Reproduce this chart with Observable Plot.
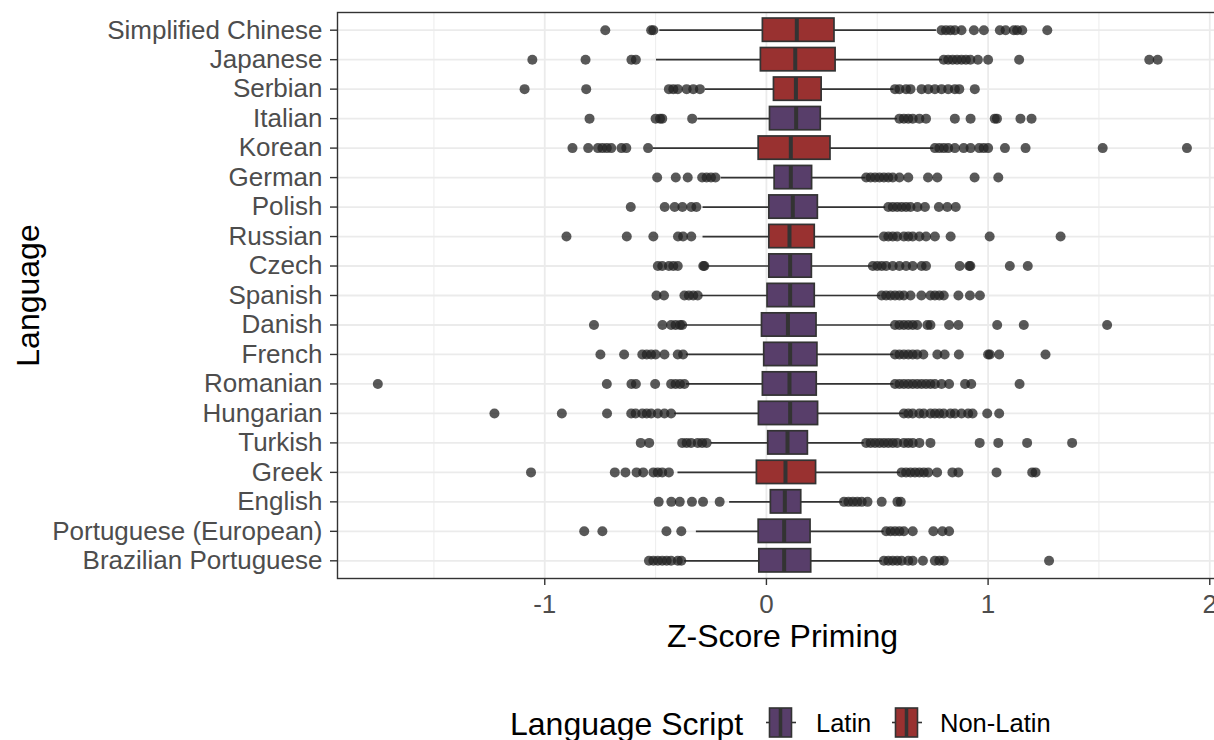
<!DOCTYPE html>
<html>
<head>
<meta charset="utf-8">
<script src="https://cdn.jsdelivr.net/npm/d3@7"></script>
<script src="https://cdn.jsdelivr.net/npm/@observablehq/plot@0.6"></script>
<style>
html, body { margin: 0; padding: 0; background: #fff; }
#wrap { position: relative; width: 1214px; height: 740px; overflow: hidden; font-family: "Liberation Sans", Arial, sans-serif; }
#wrap svg { max-width: none !important; }
.lg { position: absolute; white-space: nowrap; color: #000; }
</style>
</head>
<body>
<div id="wrap">
  <div id="chart"></div>
  <div id="legend"></div>
</div>
<script>
const languages = ["Simplified Chinese","Japanese","Serbian","Italian","Korean","German","Polish","Russian","Czech","Spanish","Danish","French","Romanian","Hungarian","Turkish","Greek","English","Portuguese (European)","Brazilian Portuguese"];
const script = ["Non-Latin","Non-Latin","Non-Latin","Latin","Non-Latin","Latin","Latin","Non-Latin","Latin","Latin","Latin","Latin","Latin","Latin","Latin","Non-Latin","Latin","Latin","Latin"];
const q1 = [-0.016,-0.025,0.034,0.016,-0.035,0.037,0.013,0.013,0.013,0.005,-0.02,-0.01,-0.016,-0.034,0.008,-0.043,0.02,-0.035,-0.032];
const median = [0.137,0.13,0.133,0.134,0.11,0.11,0.119,0.104,0.107,0.107,0.097,0.107,0.104,0.107,0.095,0.086,0.083,0.08,0.08];
const q3 = [0.307,0.312,0.249,0.245,0.289,0.206,0.232,0.218,0.205,0.218,0.226,0.23,0.227,0.233,0.187,0.224,0.157,0.199,0.202];
const whiskerLo = [-0.481,-0.496,-0.275,-0.31,-0.51,-0.204,-0.286,-0.286,-0.264,-0.295,-0.369,-0.361,-0.361,-0.414,-0.249,-0.399,-0.166,-0.316,-0.369];
const whiskerHi = [0.767,0.794,0.576,0.591,0.756,0.448,0.538,0.508,0.478,0.516,0.568,0.576,0.576,0.621,0.441,0.606,0.343,0.531,0.523];
const outliers = [
  [-0.727,-0.52,-0.51,0.79,0.81,0.83,0.85,0.88,0.936,0.981,1.053,1.079,1.116,1.131,1.154,1.267],
  [-1.056,-0.816,-0.609,-0.589,0.80,0.82,0.84,0.86,0.88,0.90,0.92,0.954,1.0,1.14,1.727,1.765],
  [-1.091,-0.813,-0.44,-0.42,-0.40,-0.36,-0.33,-0.30,0.58,0.60,0.63,0.65,0.70,0.73,0.76,0.79,0.82,0.85,0.87,0.94],
  [-0.798,-0.50,-0.48,-0.47,-0.335,0.60,0.62,0.64,0.66,0.69,0.72,0.85,0.921,1.03,1.04,1.146,1.196],
  [-0.875,-0.804,-0.76,-0.74,-0.72,-0.70,-0.654,-0.632,-0.534,0.76,0.78,0.80,0.82,0.85,0.89,0.921,0.96,0.98,1.0,1.076,1.169,1.517,1.897],
  [-0.493,-0.409,-0.355,-0.29,-0.27,-0.25,-0.23,0.45,0.47,0.49,0.51,0.53,0.55,0.57,0.60,0.64,0.729,0.771,0.939,1.046],
  [-0.612,-0.459,-0.414,-0.379,-0.339,-0.316,0.55,0.57,0.59,0.61,0.63,0.65,0.681,0.715,0.778,0.816,0.854],
  [-0.902,-0.63,-0.51,-0.399,-0.376,-0.339,0.53,0.55,0.57,0.59,0.62,0.64,0.66,0.69,0.72,0.76,0.831,1.007,1.327],
  [-0.49,-0.47,-0.44,-0.42,-0.40,-0.285,-0.28,0.48,0.50,0.52,0.54,0.57,0.60,0.63,0.66,0.70,0.72,0.872,0.915,0.92,1.098,1.179],
  [-0.496,-0.462,-0.37,-0.35,-0.33,-0.31,0.52,0.54,0.56,0.58,0.60,0.62,0.65,0.699,0.74,0.76,0.78,0.80,0.866,0.918,0.963],
  [-0.778,-0.469,-0.43,-0.41,-0.39,-0.38,0.58,0.60,0.62,0.64,0.66,0.68,0.726,0.74,0.824,0.866,1.041,1.161,1.537],
  [-0.749,-0.642,-0.56,-0.54,-0.52,-0.50,-0.46,-0.40,-0.376,0.58,0.60,0.62,0.64,0.66,0.68,0.708,0.771,0.804,0.868,1.0,1.008,1.05,1.259],
  [-1.753,-0.72,-0.609,-0.589,-0.502,-0.43,-0.41,-0.39,-0.37,0.58,0.60,0.62,0.64,0.66,0.68,0.70,0.72,0.74,0.76,0.79,0.824,0.896,0.924,1.142],
  [-1.227,-0.923,-0.719,-0.61,-0.59,-0.56,-0.54,-0.52,-0.49,-0.46,-0.43,0.62,0.64,0.66,0.69,0.71,0.74,0.76,0.78,0.80,0.83,0.85,0.88,0.91,0.93,0.996,1.05],
  [-0.567,-0.529,-0.38,-0.36,-0.34,-0.31,-0.29,-0.27,0.45,0.47,0.49,0.51,0.53,0.55,0.57,0.59,0.62,0.64,0.66,0.69,0.74,0.962,1.046,1.176,1.379],
  [-1.062,-0.684,-0.636,-0.586,-0.556,-0.51,-0.49,-0.47,-0.44,0.61,0.63,0.65,0.67,0.69,0.71,0.73,0.77,0.839,0.866,1.038,1.199,1.214],
  [-0.486,-0.429,-0.391,-0.336,-0.286,-0.211,0.35,0.37,0.39,0.41,0.43,0.456,0.52,0.591,0.606],
  [-0.822,-0.74,-0.451,-0.384,0.54,0.56,0.58,0.60,0.62,0.66,0.753,0.794,0.824],
  [-0.53,-0.51,-0.49,-0.47,-0.45,-0.43,-0.40,-0.384,0.53,0.55,0.57,0.59,0.61,0.64,0.66,0.706,0.76,0.78,0.80,1.275]
];
const xTicks = [-1, 0, 1, 2];
const xMinorTicks = [-1.5, -0.5, 0.5, 1.5];
const scriptLevels = ["Latin", "Non-Latin"];
const scriptColors = ["#583E6A", "#993130"];

const idx = languages.map((_, i) => i);
const outlierPoints = outliers.flatMap((vals, i) => vals.map(v => ({lang: languages[i], v})));

const chart = Plot.plot({
  width: 1227,
  height: 670,
  marginLeft: 337,
  marginRight: 0,
  marginTop: 12,
  marginBottom: 92,
  style: {fontFamily: "'Liberation Sans', Arial, sans-serif", background: "white", maxWidth: "none"},
  x: {domain: [-1.935, 2.08]},
  y: {type: "band", domain: languages, paddingInner: 0.21, paddingOuter: 0.205, round: false},
  color: {domain: scriptLevels, range: scriptColors},
  marks: [
    Plot.gridX({ticks: xMinorTicks, stroke: "#ebebeb", strokeOpacity: 1, strokeWidth: 0.9}),
    Plot.gridX({ticks: xTicks, stroke: "#ebebeb", strokeOpacity: 1, strokeWidth: 1.8}),
    Plot.gridY({stroke: "#ebebeb", strokeOpacity: 1, strokeWidth: 1.8}),
    Plot.ruleY(idx, {y: i => languages[i], x1: i => whiskerLo[i], x2: i => whiskerHi[i], stroke: "#333", strokeWidth: 1.7}),
    Plot.barX(idx, {y: i => languages[i], x1: i => q1[i], x2: i => q3[i], fill: i => script[i], stroke: "#333", strokeWidth: 1.7}),
    Plot.tickX(idx, {y: i => languages[i], x: i => median[i], stroke: "#333", strokeWidth: 4}),
    Plot.dot(outlierPoints, {y: "lang", x: "v", r: 5, fill: "#222", fillOpacity: 0.75, stroke: "none"}),
    Plot.frame({stroke: "#333", strokeWidth: 1.4}),
    Plot.axisX({ticks: xTicks, tickFormat: d => String(d), tickSize: 7, tickPadding: 9, fontSize: 26, fill: "#4d4d4d", stroke: "#333", strokeWidth: 1.4, label: null}),
    Plot.axisY({tickSize: 7, tickPadding: 8, fontSize: 26, fill: "#4d4d4d", stroke: "#333", strokeWidth: 1.4, label: null}),
    Plot.text(["Z-Score Priming"], {frameAnchor: "bottom", dy: 68, fontSize: 32, fill: "black"}),
    Plot.text(["Language"], {frameAnchor: "left", textAnchor: "middle", dx: -309, rotate: -90, fontSize: 32, fill: "black"})
  ]
});
document.getElementById("chart").appendChild(chart);

// Legend below the plot
const legend = document.getElementById("legend");
function addText(txt, left, top, size) {
  const d = document.createElement("div");
  d.className = "lg";
  d.textContent = txt;
  d.style.left = left + "px";
  d.style.top = top + "px";
  d.style.fontSize = size + "px";
  d.style.lineHeight = size + "px";
  legend.appendChild(d);
}
function addKey(color, left, top) {
  const ns = "http://www.w3.org/2000/svg";
  const s = document.createElementNS(ns, "svg");
  s.setAttribute("width", 32); s.setAttribute("height", 33);
  s.style.position = "absolute"; s.style.left = left + "px"; s.style.top = top + "px";
  s.innerHTML = `<line x1="1" x2="31" y1="16.5" y2="16.5" stroke="#333" stroke-width="1.6"/>
    <rect x="4.5" y="2" width="22" height="29" fill="${color}" stroke="#333" stroke-width="1.6"/>
    <line x1="15.5" x2="15.5" y1="2" y2="31" stroke="#333" stroke-width="3.5"/>`;
  legend.appendChild(s);
}
addText("Language Script", 510, 708, 32);
addKey(scriptColors[0], 765, 706);
addText(scriptLevels[0], 816, 711, 25.5);
addKey(scriptColors[1], 891, 706);
addText(scriptLevels[1], 940, 711, 25.5);
</script>
</body>
</html>
